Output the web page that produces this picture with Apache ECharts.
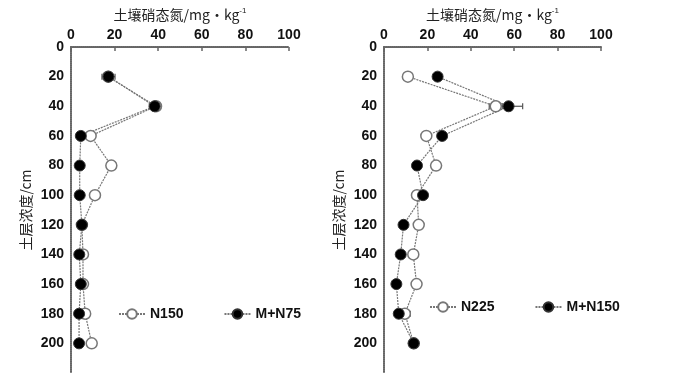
<!DOCTYPE html>
<html><head><meta charset="utf-8">
<script src="https://cdn.jsdelivr.net/npm/echarts@6/dist/echarts.min.js"></script>
<style>html,body{margin:0;padding:0;background:#fff}#c{width:676px;height:381px}</style>
</head><body><div id="c"></div>
<script>
// Depths (cm)
var depths = [20, 40, 60, 80, 100, 120, 140, 160, 180, 200];
var xTicks = [0, 20, 40, 60, 80, 100];
var yTicks = [0, 20, 40, 60, 80, 100, 120, 140, 160, 180, 200];
// Left panel
var leftNames = ['N150', 'M+N75'];
var leftN150 = [17, 39, 9, 18.5, 11, 5, 5.5, 5.5, 6.5, 9.5];
var leftN150Err = [2, 2, 1.5, 2, 1.5, 1, 1, 1, 1.5, 1.5];
var leftMN75 = [17.2, 38.4, 4.5, 4, 4, 5, 3.8, 4.5, 3.7, 3.7];
var leftMN75Err = [3, 2.5, 1, 1, 1, 1.5, 1, 1, 1, 1];
// Right panel
var rightNames = ['N225', 'M+N150'];
var rightN225 = [11, 51.5, 19.5, 24, 15.2, 16, 13.5, 15, 9.6, 13.7];
var rightN225Err = [2, 3, 2, 2, 1.5, 2, 1, 1, 2.5, 1.5];
var rightMN150 = [24.7, 57.4, 26.8, 15.2, 18, 9, 7.7, 5.7, 6.8, 13.7];
var rightMN150Err = [2, 6.5, 2, 1.5, 2, 1, 1.5, 1, 1.5, 2];

var xTitle = '土壤硝态氮/mg·kg';
var yTitle = '土层浓度/cm';

var chart = echarts.init(document.getElementById('c'));
var tickFont = {fontFamily: "'Liberation Sans', Arial, sans-serif", fontSize: 14, fontWeight: 'bold', color: '#111'};
var axisLine = {lineStyle: {color: '#666', width: 2, type: [1, 1]}};

function xAxis(idx) {
  return {
    gridIndex: idx, type: 'value', position: 'top', min: 0, max: 100, interval: 20,
    axisLine: axisLine,
    axisTick: {inside: true, length: 4, lineStyle: {color: '#666', width: 1.5}},
    axisLabel: Object.assign({margin: 5}, tickFont),
    splitLine: {show: false},
    name: '{a|' + xTitle + '}{s|-1}', nameLocation: 'middle', nameGap: 24,
    nameTextStyle: {rich: {
      a: {fontFamily: 'Noto Sans CJK SC', fontSize: 14, color: '#222'},
      s: {fontFamily: 'Liberation Sans', fontSize: 8, color: '#222', verticalAlign: 'top', padding: [0, 0, 8, 0]}
    }}
  };
}
function yAxis(idx) {
  return {
    gridIndex: idx, type: 'value', inverse: true, min: 0, max: 220, interval: 20,
    axisLine: axisLine,
    axisTick: {show: false},
    axisLabel: Object.assign({margin: 7, formatter: function (v) { return yTicks.indexOf(v) >= 0 ? String(v) : ''; }}, tickFont),
    splitLine: {show: false},
    name: yTitle, nameLocation: 'middle', nameGap: 38, nameRotate: 90,
    nameTextStyle: {fontFamily: 'Noto Sans CJK SC', fontSize: 14, color: '#222'}
  };
}
function pts(vals) { return vals.map(function (v, i) { return [v, depths[i]]; }); }
function lineSeries(name, vals, idx, filled) {
  return {
    name: name, type: 'line', xAxisIndex: idx, yAxisIndex: idx, data: pts(vals),
    symbol: 'circle', symbolSize: 11, z: 3,
    lineStyle: {color: '#777', width: 1.2, type: [2, 1]},
    itemStyle: filled ? {color: '#000', borderColor: '#333', borderWidth: 1} : {color: '#fff', borderColor: '#777', borderWidth: 1.5}
  };
}
function errSeries(vals, errs, idx) {
  return {
    type: 'custom', xAxisIndex: idx, yAxisIndex: idx, z: 2, silent: true,
    data: vals.map(function (v, i) { return [v - errs[i], v + errs[i], depths[i]]; }),
    renderItem: function (params, api) {
      var a = api.coord([api.value(0), api.value(2)]);
      var b = api.coord([api.value(1), api.value(2)]);
      var st = {stroke: '#555', lineWidth: 1.2};
      return {type: 'group', children: [
        {type: 'line', shape: {x1: a[0], y1: a[1], x2: b[0], y2: b[1]}, style: st},
        {type: 'line', shape: {x1: a[0], y1: a[1] - 3, x2: a[0], y2: a[1] + 3}, style: st},
        {type: 'line', shape: {x1: b[0], y1: b[1] - 3, x2: b[0], y2: b[1] + 3}, style: st}
      ]};
    }
  };
}
var legendText = {fontFamily: "'Liberation Sans', Arial, sans-serif", fontSize: 14, fontWeight: 'bold', color: '#111'};
chart.setOption({
  animation: false,
  grid: [
    {left: 71, top: 47, width: 218, height: 326, outerBoundsMode: 'none'},
    {left: 384, top: 47, width: 217, height: 326, outerBoundsMode: 'none'}
  ],
  xAxis: [xAxis(0), xAxis(1)],
  yAxis: [yAxis(0), yAxis(1)],
  legend: [
    {data: leftNames, left: 113, top: 302, itemWidth: 26, itemHeight: 12, itemGap: 40, textStyle: legendText},
    {data: rightNames, left: 424, top: 295, itemWidth: 26, itemHeight: 12, itemGap: 40, textStyle: legendText}
  ],
  series: [
    errSeries(leftN150, leftN150Err, 0),
    errSeries(leftMN75, leftMN75Err, 0),
    lineSeries(leftNames[0], leftN150, 0, false),
    lineSeries(leftNames[1], leftMN75, 0, true),
    errSeries(rightN225, rightN225Err, 1),
    errSeries(rightMN150, rightMN150Err, 1),
    lineSeries(rightNames[0], rightN225, 1, false),
    lineSeries(rightNames[1], rightMN150, 1, true)
  ]
});
</script></body></html>
